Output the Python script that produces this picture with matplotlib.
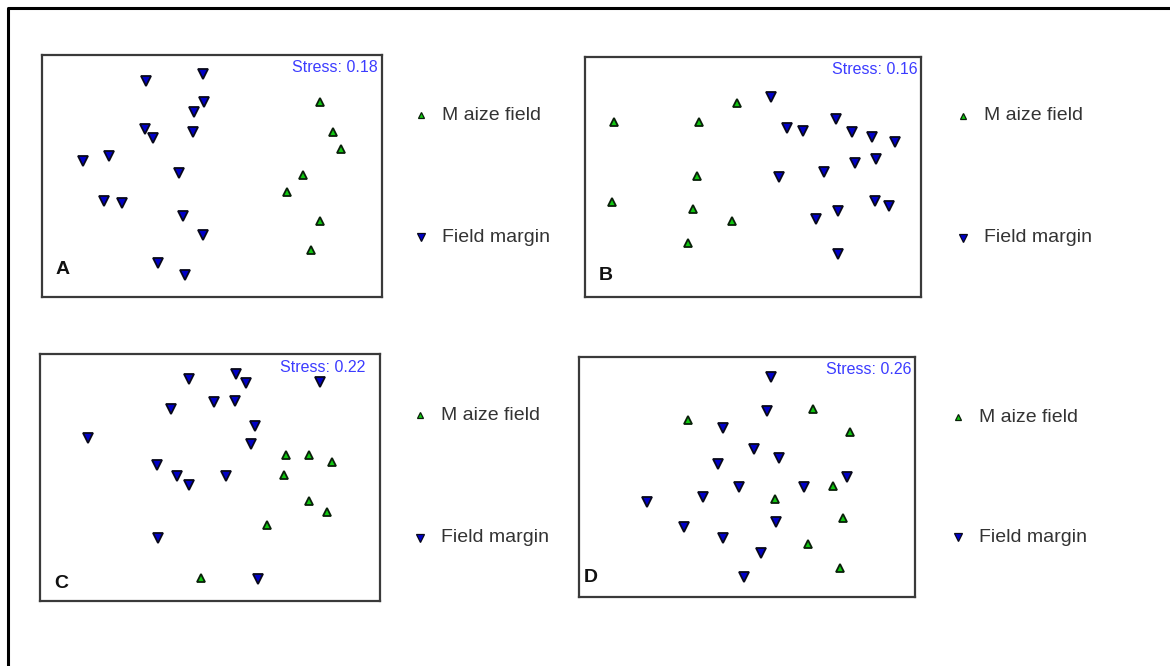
import matplotlib
matplotlib.use("Agg")
import matplotlib.pyplot as plt

plt.rcParams['font.family'] = ['Liberation Sans', 'DejaVu Sans']

W, H = 1170, 666

# NMDS ordination scores per panel (plot units, y grows downward)
a_maize_x = [278, 291, 299, 261, 245, 278, 269]
a_maize_y = [47, 77, 94, 120, 137, 166, 195]
a_margin_x = [104, 161, 162, 152, 103, 111, 151, 41, 67, 137, 62, 80, 141, 161, 116, 143]
a_margin_y = [26, 19, 47, 57, 74, 83, 77, 106, 101, 118, 146, 148, 161, 180, 208, 220]

b_maize_x = [152, 29, 114, 112, 27, 108, 147, 103]
b_maize_y = [46, 65, 65, 119, 145, 152, 164, 186]
b_margin_x = [186, 251, 202, 218, 267, 287, 310, 291, 270, 239, 194, 290, 304, 253, 231, 253]
b_margin_y = [40, 62, 71, 74, 75, 80, 85, 102, 106, 115, 120, 144, 149, 154, 162, 197]

c_maize_x = [246, 269, 292, 244, 269, 287, 227, 161]
c_maize_y = [101, 101, 108, 121, 147, 158, 171, 224]
c_margin_x = [149, 196, 206, 280, 174, 195, 131, 215, 48, 211, 117, 137, 149, 186, 118, 218]
c_margin_y = [25, 20, 29, 28, 48, 47, 55, 72, 84, 90, 111, 122, 131, 122, 184, 225]

d_maize_x = [234, 109, 271, 254, 196, 264, 229, 261]
d_maize_y = [52, 63, 75, 129, 142, 161, 187, 211]
d_margin_x = [192, 188, 144, 175, 200, 139, 268, 225, 160, 124, 68, 197, 105, 144, 182, 165]
d_margin_y = [20, 54, 71, 92, 101, 107, 120, 130, 130, 140, 145, 165, 170, 181, 196, 220]

panel_labels = ["A", "B", "C", "D"]
stress_values = [0.18, 0.16, 0.22, 0.26]
legend_labels = ["M aize field", "Field margin"]

panels = [
    (a_maize_x, a_maize_y, a_margin_x, a_margin_y),
    (b_maize_x, b_maize_y, b_margin_x, b_margin_y),
    (c_maize_x, c_maize_y, c_margin_x, c_margin_y),
    (d_maize_x, d_maize_y, d_margin_x, d_margin_y),
]

# panel boxes in pixels: left, top, right, bottom
boxes = [(42, 55, 382, 297), (585, 57, 921, 297), (40, 354, 380, 601), (579, 357, 915, 597)]
stress_pos = [(378, 68), (918, 70), (365, 368), (912, 370)]
letter_pos = [(63, 270), (606, 275), (61, 583), (591, 577)]
legend_pos = [(421, 115, 237), (963, 116, 238), (420, 415, 538), (958, 417, 537)]

maize_face, maize_edge = '#10c810', '#0a200a'
margin_face, margin_edge = '#0000c8', '#08081a'

fig = plt.figure(figsize=(W / 100, H / 100), dpi=100)
fig.patch.set_facecolor('white')

for i, (mx, my, fx, fy) in enumerate(panels):
    l, t, r, b = boxes[i]
    ax = fig.add_axes([l / W, 1 - b / H, (r - l) / W, (b - t) / H], zorder=1)
    ax.set_xlim(0, r - l)
    ax.set_ylim(b - t, 0)
    ax.set_xticks([])
    ax.set_yticks([])
    for s in ax.spines.values():
        s.set_color('#3a3a3a')
        s.set_linewidth(1.6)
    ax.plot(fx, fy, 'v', ms=7.2, mfc=margin_face, mec=margin_edge, mew=1.3, ls='none')
    ax.plot(mx, my, '^', ms=6.4, mfc=maize_face, mec=maize_edge, mew=1.3, ls='none')

# overlay in pixel coordinates for the outer frame, annotations and keys
ov = fig.add_axes([0, 0, 1, 1], zorder=3)
ov.set_xlim(0, W)
ov.set_ylim(H, 0)
ov.axis('off')
ov.patch.set_alpha(0)
ov.plot([8, 8, W], [H, 8, 8], color='black', lw=2.2, solid_capstyle='butt')

for i in range(4):
    sx, sy = stress_pos[i]
    ov.text(sx, sy, f"Stress: {stress_values[i]:.2f}", color='#3c3cff',
            fontsize=11.5, ha='right', va='center')
    lx, ly = letter_pos[i]
    ov.text(lx, ly, panel_labels[i], color='#111111', fontsize=14,
            fontweight='bold', ha='center', va='center')

    kx, y1, y2 = legend_pos[i]
    ov.plot([kx], [y1], '^', ms=5.0, mfc=maize_face, mec=maize_edge, mew=0.9)
    ov.plot([kx], [y2], 'v', ms=5.2, mfc=margin_face, mec=margin_edge, mew=0.9)
    ov.text(kx + 21, y1, legend_labels[0], color='#333333', fontsize=14,
            ha='left', va='center')
    ov.text(kx + 21, y2, legend_labels[1], color='#333333', fontsize=14,
            ha='left', va='center')

fig.savefig('out.png', dpi=100, facecolor='white')
